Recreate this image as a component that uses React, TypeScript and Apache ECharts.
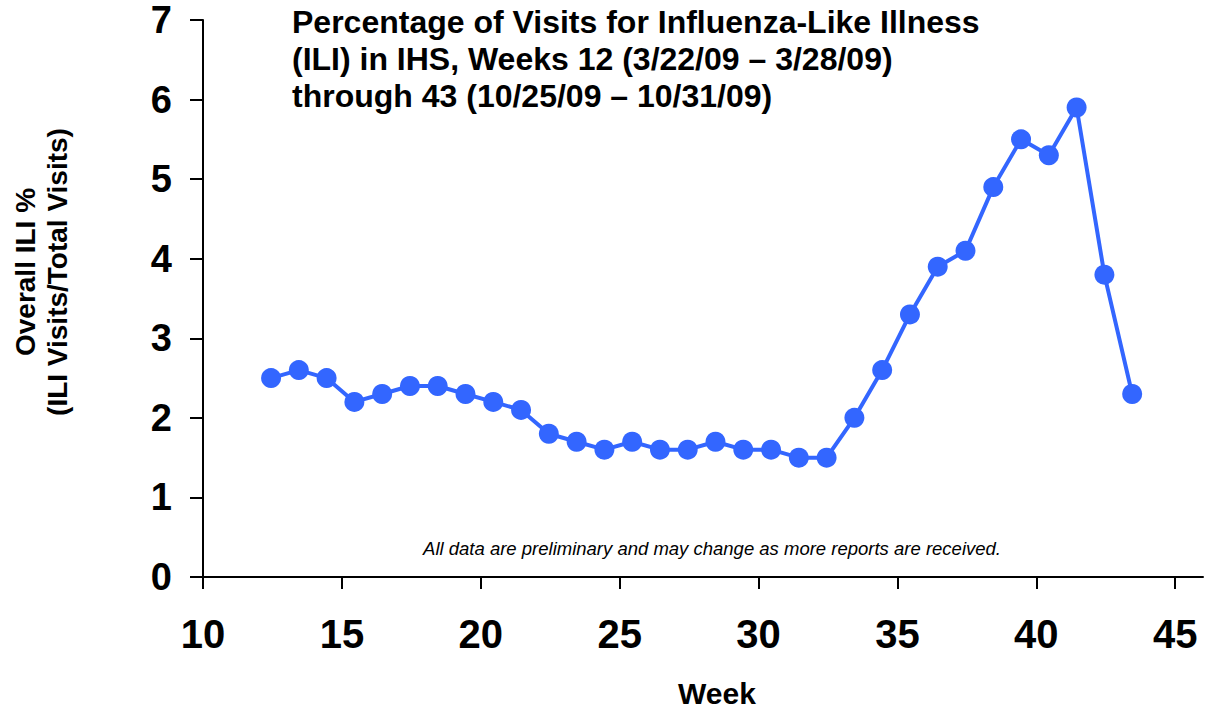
import React, { useEffect, useRef } from "react";
import * as echarts from "echarts";

// Week numbers (2009) and overall ILI % in IHS
const weeks = [12, 13, 14, 15, 16, 17, 18, 19, 20, 21, 22, 23, 24, 25, 26, 27, 28, 29, 30, 31, 32, 33, 34, 35, 36, 37, 38, 39, 40, 41, 42, 43];
const iliPercent = [2.5, 2.6, 2.5, 2.2, 2.3, 2.4, 2.4, 2.3, 2.2, 2.1, 1.8, 1.7, 1.6, 1.7, 1.6, 1.6, 1.7, 1.6, 1.6, 1.5, 1.5, 2.0, 2.6, 3.3, 3.9, 4.1, 4.9, 5.5, 5.3, 5.9, 3.8, 2.3];
// points are plotted at mid-week
const midWeekOffset = 0.45;
const xTicks = [10, 15, 20, 25, 30, 35, 40, 45];
const yTicks = [0, 1, 2, 3, 4, 5, 6, 7];

const titleText = "Percentage of Visits for Influenza-Like Illness\n(ILI) in IHS, Weeks 12 (3/22/09 \u2013 3/28/09)\nthrough 43 (10/25/09 \u2013 10/31/09)";
const yName = "Overall ILI %\n(ILI Visits/Total Visits)";
const xName = "Week";
const noteText = "All data are preliminary and may change as more reports are received.";

const FONT = "'Liberation Sans', Arial, Helvetica, sans-serif";
const LINE_COLOR = "#3366ff";

export default function App() {
  const ref = useRef<HTMLDivElement>(null);
  useEffect(() => {
    document.body.style.margin = "0";
    if (!ref.current) return;
    const chart = echarts.init(ref.current, null, { renderer: "svg" });
    chart.setOption({
      animation: false,
      backgroundColor: "#ffffff",
      grid: { left: 203, right: 14, top: 20, bottom: 133, containLabel: false },
      xAxis: {
        type: "value",
        min: 10,
        max: 46,
        interval: 5,
        splitLine: { show: false },
        axisLine: { show: true, lineStyle: { color: "#000", width: 2 } },
        axisTick: { show: true, length: 12, lineStyle: { color: "#000", width: 2 }, customValues: xTicks },
        axisLabel: {
          customValues: xTicks,
          margin: 39,
          fontSize: 40,
          lineHeight: 36,
          fontWeight: "bold",
          fontFamily: FONT,
          color: "#000",
        },
      },
      yAxis: {
        type: "value",
        min: 0,
        max: 7,
        interval: 1,
        splitLine: { show: false },
        axisLine: { show: true, lineStyle: { color: "#000", width: 2 } },
        axisTick: { show: true, length: 13, lineStyle: { color: "#000", width: 2 }, customValues: yTicks },
        axisLabel: {
          customValues: yTicks,
          margin: 31,
          fontSize: 38,
          lineHeight: 34,
          fontWeight: "bold",
          fontFamily: FONT,
          color: "#000",
        },
      },
      series: [
        {
          type: "line",
          data: weeks.map((w, i) => [w + midWeekOffset, iliPercent[i]]),
          symbol: "circle",
          symbolSize: 20,
          lineStyle: { color: LINE_COLOR, width: 4 },
          itemStyle: { color: LINE_COLOR },
          z: 3,
        },
      ],
      graphic: [
        {
          type: "text",
          x: 292,
          y: 3,
          style: {
            text: titleText,
            font: `bold 32px ${FONT}`,
            lineHeight: 37,
            fill: "#000",
            textAlign: "left",
            textVerticalAlign: "top",
          },
        },
        {
          type: "text",
          x: 41,
          y: 272,
          rotation: Math.PI / 2,
          style: {
            text: yName,
            font: `bold 28px ${FONT}`,
            lineHeight: 32,
            fill: "#000",
            textAlign: "center",
            textVerticalAlign: "middle",
          },
        },
        {
          type: "text",
          x: 712,
          y: 548,
          style: {
            text: noteText,
            font: `italic 18.5px ${FONT}`,
            fill: "#000",
            textAlign: "center",
            textVerticalAlign: "middle",
          },
        },
        {
          type: "text",
          x: 717,
          y: 693,
          style: {
            text: xName,
            font: `bold 30px ${FONT}`,
            fill: "#000",
            textAlign: "center",
            textVerticalAlign: "middle",
          },
        },
      ],
    });
    return () => chart.dispose();
  }, []);
  return <div ref={ref} style={{ width: 1217, height: 710 }} />;
}
